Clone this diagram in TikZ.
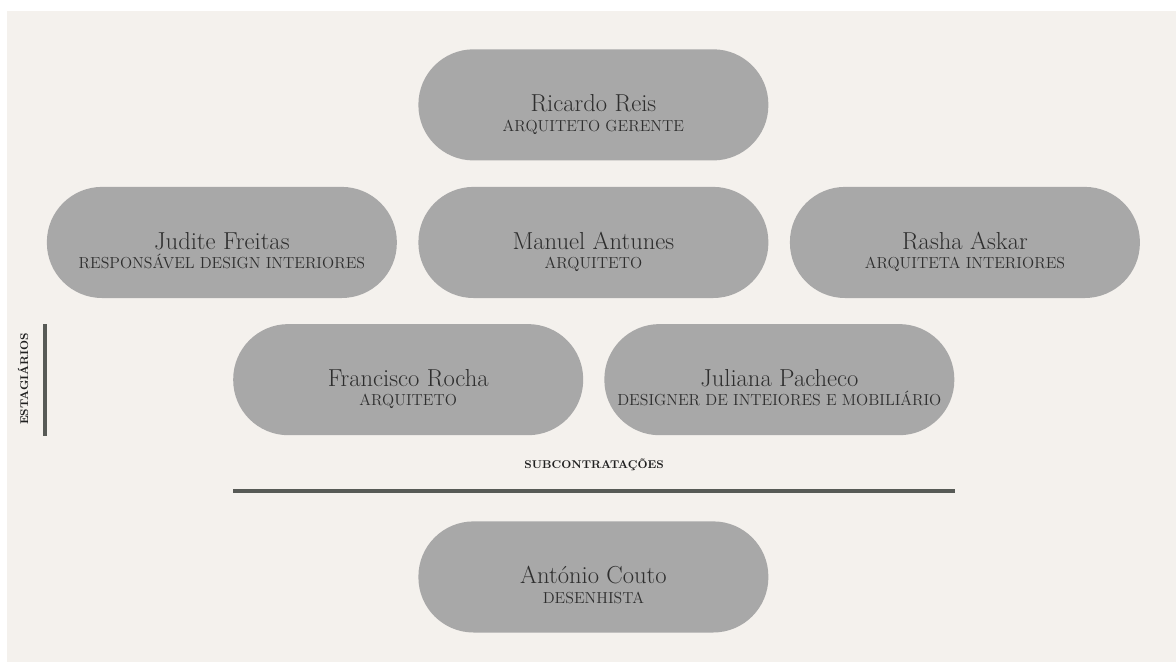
\documentclass[tikz,border=0pt]{standalone}
\usepackage{xcolor}
\usepackage{tikz}

\definecolor{paper}{HTML}{F4F1ED}
\definecolor{pillgrey}{HTML}{A8A8A8}
\definecolor{ink}{HTML}{2E2E2E}
\definecolor{rulegrey}{HTML}{575A56}

\begin{document}
\begin{tikzpicture}[
  pill/.style={fill=pillgrey, rounded corners=1.46cm, minimum width=9.26cm, minimum height=2.94cm, inner sep=0pt, text=ink, font=\fontsize{18.5}{21}\selectfont, text height=10.5pt, text depth=0pt},
  role/.style={anchor=base, text=ink, inner sep=0pt, font=\fontsize{12}{14}\selectfont},
  tag/.style={text=ink!70!black, inner sep=0pt, font=\fontsize{8.5}{10}\selectfont\bfseries},
  bar/.style={draw=rulegrey, line width=3pt}
]
\useasboundingbox (0,0) rectangle (31.115,17.515);
\fill[white] (0,0) rectangle (31.115,17.515);
\fill[paper] (0.185,0) rectangle (31.115,17.224);

\node[pill] (ricardo)   at (15.70,14.74) {Ricardo Reis};
\node[pill] (judite)    at (5.87,11.10)  {Judite Freitas};
\node[pill] (manuel)    at (15.70,11.10) {Manuel Antunes};
\node[pill] (rasha)     at (25.53,11.10) {Rasha Askar};
\node[pill] (francisco) at (10.80,7.47)  {Francisco Rocha};
\node[pill] (juliana)   at (20.62,7.47)  {Juliana Pacheco};
\node[pill] (antonio)   at (15.70,2.25)  {António Couto};

\node[role] (ricardo-r)   at ([yshift=-14.5pt]ricardo.base)   {ARQUITETO GERENTE};
\node[role] (judite-r)    at ([yshift=-14.5pt]judite.base)    {RESPONSÁVEL DESIGN INTERIORES};
\node[role] (manuel-r)    at ([yshift=-14.5pt]manuel.base)    {ARQUITETO};
\node[role] (rasha-r)     at ([yshift=-14.5pt]rasha.base)     {ARQUITETA INTERIORES};
\node[role] (francisco-r) at ([yshift=-14.5pt]francisco.base) {ARQUITETO};
\node[role] (juliana-r)   at ([yshift=-14.5pt]juliana.base)   {DESIGNER DE INTEIORES E MOBILIÁRIO};
\node[role] (antonio-r)   at ([yshift=-14.5pt]antonio.base)   {DESENHISTA};

% estagiarios
\node[tag, rotate=90] (estag) at (0.61,7.49) {ESTAGIÁRIOS};
\coordinate (estag-top) at (1.19,8.94);
\coordinate (estag-bot) at (1.19,5.98);
\draw[bar] (estag-top) -- (estag-bot);

% subcontratacoes
\node[tag] (sub) at (15.72,5.21) {SUBCONTRATAÇÕES};
\coordinate (sub-left)  at (6.165,4.524);
\coordinate (sub-right) at (25.267,4.524);
\draw[bar] (sub-left) -- (sub-right);
\end{tikzpicture}
\end{document}
